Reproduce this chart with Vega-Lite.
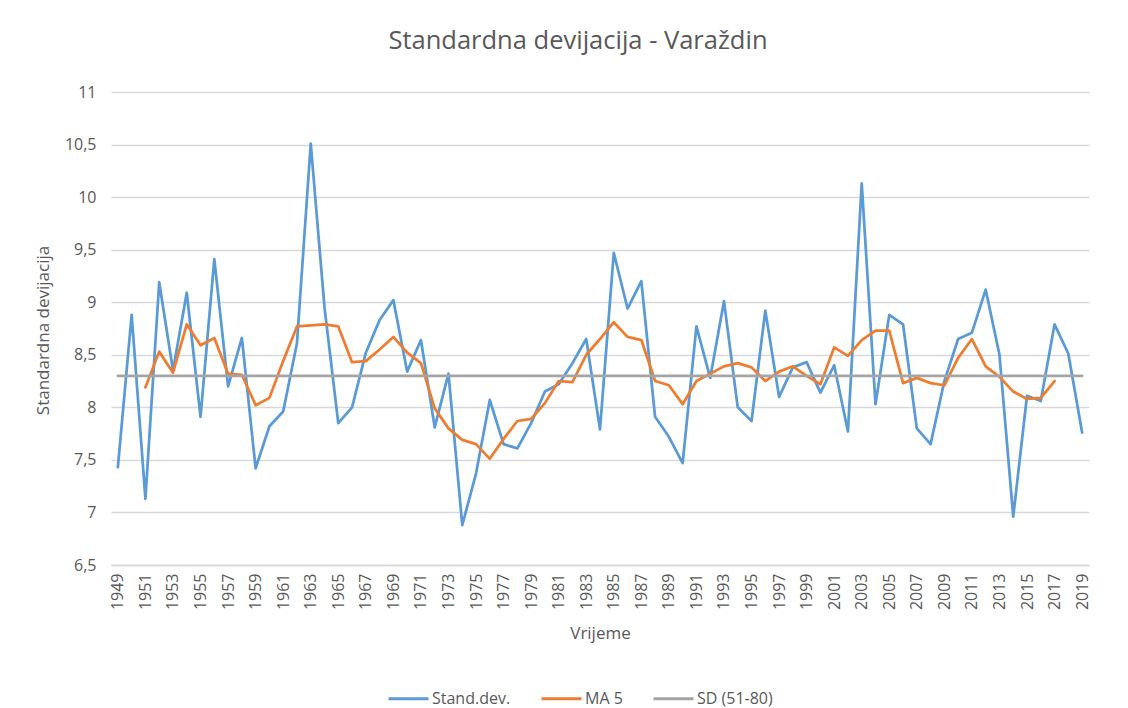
{
  "$schema": "https://vega.github.io/schema/vega-lite/v6.json",
  "width": 978,
  "height": 473,
  "autosize": {"type": "none"},
  "padding": {"left": 111, "top": 92, "right": 39, "bottom": 143},
  "background": "white",
  "title": {
    "text": "Standardna devijacija - Varaždin",
    "font": "Open Sans",
    "fontSize": 25.5,
    "fontWeight": "normal",
    "color": "#595959",
    "anchor": "middle",
    "baseline": "middle",
    "offset": 18,
    "dx": -22
  },
  "config": {
    "view": {"stroke": null},
    "font": "Open Sans"
  },
  "data": {
    "values": [
      {"year": 1949, "sd": 7.43, "ma": null, "ref": 8.3},
      {"year": 1950, "sd": 8.88, "ma": null, "ref": 8.3},
      {"year": 1951, "sd": 7.13, "ma": 8.19, "ref": 8.3},
      {"year": 1952, "sd": 9.19, "ma": 8.53, "ref": 8.3},
      {"year": 1953, "sd": 8.35, "ma": 8.33, "ref": 8.3},
      {"year": 1954, "sd": 9.09, "ma": 8.79, "ref": 8.3},
      {"year": 1955, "sd": 7.91, "ma": 8.59, "ref": 8.3},
      {"year": 1956, "sd": 9.41, "ma": 8.66, "ref": 8.3},
      {"year": 1957, "sd": 8.2, "ma": 8.32, "ref": 8.3},
      {"year": 1958, "sd": 8.66, "ma": 8.31, "ref": 8.3},
      {"year": 1959, "sd": 7.42, "ma": 8.02, "ref": 8.3},
      {"year": 1960, "sd": 7.82, "ma": 8.09, "ref": 8.3},
      {"year": 1961, "sd": 7.96, "ma": 8.44, "ref": 8.3},
      {"year": 1962, "sd": 8.61, "ma": 8.77, "ref": 8.3},
      {"year": 1963, "sd": 10.51, "ma": 8.78, "ref": 8.3},
      {"year": 1964, "sd": 8.95, "ma": 8.79, "ref": 8.3},
      {"year": 1965, "sd": 7.85, "ma": 8.77, "ref": 8.3},
      {"year": 1966, "sd": 8.0, "ma": 8.43, "ref": 8.3},
      {"year": 1967, "sd": 8.52, "ma": 8.44, "ref": 8.3},
      {"year": 1968, "sd": 8.83, "ma": 8.55, "ref": 8.3},
      {"year": 1969, "sd": 9.02, "ma": 8.67, "ref": 8.3},
      {"year": 1970, "sd": 8.34, "ma": 8.52, "ref": 8.3},
      {"year": 1971, "sd": 8.64, "ma": 8.42, "ref": 8.3},
      {"year": 1972, "sd": 7.81, "ma": 7.99, "ref": 8.3},
      {"year": 1973, "sd": 8.32, "ma": 7.8, "ref": 8.3},
      {"year": 1974, "sd": 6.88, "ma": 7.69, "ref": 8.3},
      {"year": 1975, "sd": 7.37, "ma": 7.65, "ref": 8.3},
      {"year": 1976, "sd": 8.07, "ma": 7.51, "ref": 8.3},
      {"year": 1977, "sd": 7.65, "ma": 7.7, "ref": 8.3},
      {"year": 1978, "sd": 7.61, "ma": 7.87, "ref": 8.3},
      {"year": 1979, "sd": 7.85, "ma": 7.89, "ref": 8.3},
      {"year": 1980, "sd": 8.15, "ma": 8.04, "ref": 8.3},
      {"year": 1981, "sd": 8.22, "ma": 8.25, "ref": 8.3},
      {"year": 1982, "sd": 8.42, "ma": 8.24, "ref": 8.3},
      {"year": 1983, "sd": 8.65, "ma": 8.5, "ref": 8.3},
      {"year": 1984, "sd": 7.79, "ma": 8.65, "ref": 8.3},
      {"year": 1985, "sd": 9.47, "ma": 8.81, "ref": 8.3},
      {"year": 1986, "sd": 8.94, "ma": 8.67, "ref": 8.3},
      {"year": 1987, "sd": 9.2, "ma": 8.64, "ref": 8.3},
      {"year": 1988, "sd": 7.91, "ma": 8.25, "ref": 8.3},
      {"year": 1989, "sd": 7.72, "ma": 8.21, "ref": 8.3},
      {"year": 1990, "sd": 7.47, "ma": 8.03, "ref": 8.3},
      {"year": 1991, "sd": 8.77, "ma": 8.25, "ref": 8.3},
      {"year": 1992, "sd": 8.28, "ma": 8.32, "ref": 8.3},
      {"year": 1993, "sd": 9.01, "ma": 8.39, "ref": 8.3},
      {"year": 1994, "sd": 8.0, "ma": 8.42, "ref": 8.3},
      {"year": 1995, "sd": 7.87, "ma": 8.38, "ref": 8.3},
      {"year": 1996, "sd": 8.92, "ma": 8.25, "ref": 8.3},
      {"year": 1997, "sd": 8.1, "ma": 8.34, "ref": 8.3},
      {"year": 1998, "sd": 8.38, "ma": 8.39, "ref": 8.3},
      {"year": 1999, "sd": 8.43, "ma": 8.3, "ref": 8.3},
      {"year": 2000, "sd": 8.14, "ma": 8.22, "ref": 8.3},
      {"year": 2001, "sd": 8.4, "ma": 8.57, "ref": 8.3},
      {"year": 2002, "sd": 7.77, "ma": 8.49, "ref": 8.3},
      {"year": 2003, "sd": 10.13, "ma": 8.64, "ref": 8.3},
      {"year": 2004, "sd": 8.03, "ma": 8.73, "ref": 8.3},
      {"year": 2005, "sd": 8.88, "ma": 8.73, "ref": 8.3},
      {"year": 2006, "sd": 8.79, "ma": 8.23, "ref": 8.3},
      {"year": 2007, "sd": 7.8, "ma": 8.28, "ref": 8.3},
      {"year": 2008, "sd": 7.65, "ma": 8.23, "ref": 8.3},
      {"year": 2009, "sd": 8.25, "ma": 8.21, "ref": 8.3},
      {"year": 2010, "sd": 8.65, "ma": 8.47, "ref": 8.3},
      {"year": 2011, "sd": 8.71, "ma": 8.65, "ref": 8.3},
      {"year": 2012, "sd": 9.12, "ma": 8.39, "ref": 8.3},
      {"year": 2013, "sd": 8.5, "ma": 8.29, "ref": 8.3},
      {"year": 2014, "sd": 6.96, "ma": 8.15, "ref": 8.3},
      {"year": 2015, "sd": 8.11, "ma": 8.08, "ref": 8.3},
      {"year": 2016, "sd": 8.06, "ma": 8.09, "ref": 8.3},
      {"year": 2017, "sd": 8.79, "ma": 8.25, "ref": 8.3},
      {"year": 2018, "sd": 8.51, "ma": null, "ref": 8.3},
      {"year": 2019, "sd": 7.76, "ma": null, "ref": 8.3}
    ]
  },
  "transform": [
    {"fold": ["sd", "ma", "ref"], "as": ["series", "value"]}
  ],
  "mark": {"type": "line", "strokeWidth": 2.75, "strokeJoin": "round", "strokeCap": "round"},
  "encoding": {
    "x": {
      "field": "year",
      "type": "ordinal",
      "scale": {"type": "point", "padding": 0.5},
      "axis": {
        "values": [1949, 1951, 1953, 1955, 1957, 1959, 1961, 1963, 1965, 1967, 1969, 1971, 1973, 1975, 1977, 1979, 1981, 1983, 1985, 1987, 1989, 1991, 1993, 1995, 1997, 1999, 2001, 2003, 2005, 2007, 2009, 2011, 2013, 2015, 2017, 2019],
        "labelAngle": -90,
        "labelAlign": "right",
        "labelBaseline": "middle",
        "labelFontSize": 16,
        "labelColor": "#595959",
        "labelPadding": 8,
        "ticks": false,
        "grid": false,
        "domainColor": "#d9d9d9",
        "domainWidth": 1.3,
        "title": "Vrijeme",
        "titleFontSize": 17,
        "titleFontWeight": "normal",
        "titleColor": "#595959",
        "titleY": 68,
        "titleBaseline": "middle"
      }
    },
    "y": {
      "field": "value",
      "type": "quantitative",
      "scale": {"domain": [6.5, 11], "nice": false, "zero": false},
      "axis": {
        "values": [6.5, 7, 7.5, 8, 8.5, 9, 9.5, 10, 10.5, 11],
        "format": ".1~f",
        "labelExpr": "replace(datum.label, '.', ',')",
        "labelFontSize": 16,
        "labelColor": "#595959",
        "labelPadding": 15,
        "ticks": false,
        "domain": false,
        "grid": true,
        "gridColor": "#d9d9d9",
        "gridWidth": 1.3,
        "title": "Standardna devijacija",
        "titleFontSize": 17,
        "titleFontWeight": "normal",
        "titleColor": "#595959",
        "titleX": -68,
        "titleY": 238,
        "titleAngle": -90,
        "titleBaseline": "middle",
        "titleAlign": "center"
      }
    },
    "color": {
      "field": "series",
      "type": "nominal",
      "sort": ["sd", "ma", "ref"],
      "scale": {"domain": ["sd", "ma", "ref"], "range": ["#5b9bd5", "#ed7d31", "#a5a5a5"]},
      "legend": {
        "title": null,
        "orient": "none",
        "direction": "horizontal",
        "legendX": 276,
        "legendY": 585,
        "symbolType": "stroke",
        "symbolSize": 1600,
        "symbolStrokeWidth": 3,
        "labelExpr": "datum.value == 'sd' ? 'Stand.dev.' : datum.value == 'ma' ? 'MA 5' : 'SD (51-80)'",
        "labelFontSize": 16,
        "labelColor": "#595959",
        "labelOffset": 2,
        "columnPadding": 24
      }
    }
  }
}
